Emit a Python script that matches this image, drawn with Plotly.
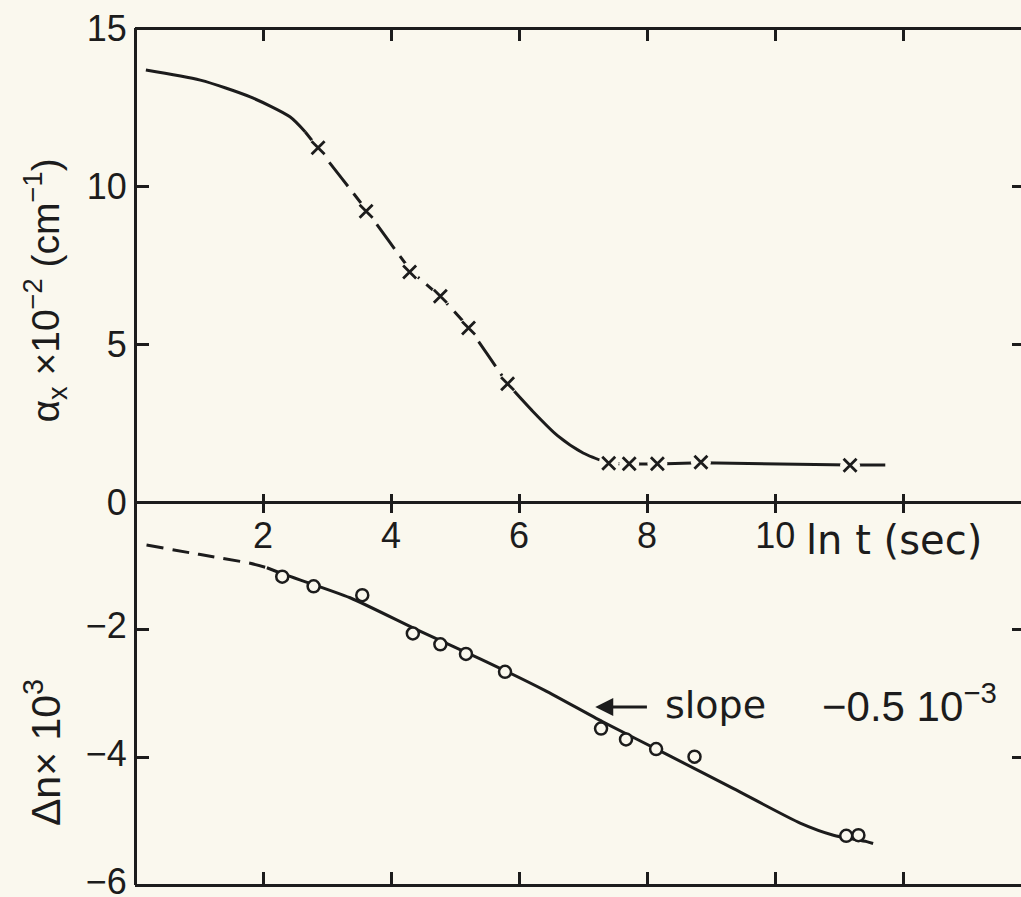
import plotly.graph_objects as go

# ---------------- data ----------------
# top panel: alpha_x x 10^-2 (cm^-1) vs ln t
alpha_a_x = [0.17, 1.02, 1.80, 2.42, 2.66]
alpha_a_y = [13.67, 13.35, 12.82, 12.19, 11.71]
alpha_b_x = [2.66, 2.86, 3.61, 4.32, 4.77, 5.21, 5.82]
alpha_b_y = [11.71, 11.20, 9.25, 7.30, 6.50, 5.52, 3.74]
alpha_c_x = [5.82, 6.20, 6.60, 7.00, 7.40]
alpha_c_y = [3.74, 2.90, 2.10, 1.55, 1.22]
alpha_d_x = [7.40, 7.72, 8.16, 8.84, 11.17, 11.72]
alpha_d_y = [1.22, 1.20, 1.20, 1.24, 1.17, 1.17]

alpha_pts_x = [2.86, 3.61, 4.29, 4.77, 5.21, 5.82, 7.40, 7.72, 8.16, 8.84, 11.17]
alpha_pts_y = [11.21, 9.20, 7.28, 6.51, 5.51, 3.74, 1.23, 1.21, 1.21, 1.26, 1.16]

# bottom panel: delta n x 10^3 vs ln t
dn_dash_x = [0.18, 1.00, 1.80, 2.06]
dn_dash_y = [-0.674, -0.82, -0.96, -1.03]
dn_line_x = [2.06, 2.32, 3.36, 4.40, 5.40, 6.40, 7.30, 8.30, 9.35, 10.39, 10.91, 11.43, 11.53]
dn_line_y = [-1.03, -1.13, -1.50, -2.00, -2.46, -2.95, -3.44, -3.95, -4.49, -5.03, -5.22, -5.32, -5.35]

dn_pts_x = [2.30, 2.79, 3.55, 4.34, 4.77, 5.17, 5.78, 7.28, 7.67, 8.14, 8.74, 11.11, 11.30]
dn_pts_y = [-1.17, -1.32, -1.46, -2.06, -2.23, -2.38, -2.66, -3.55, -3.72, -3.87, -3.99, -5.23, -5.22]

x_ticks = [2, 4, 6, 8, 10, 12]
x_tick_text = ["2", "4", "6", "8", "10", ""]
top_ticks = [0, 5, 10, 15]
top_tick_text = ["0", "5", "10", "15"]
bot_ticks = [-2, -4, -6]
bot_tick_text = ["\u22122", "\u22124", "\u22126"]

# ---------------- style ----------------
BG = "#faf8ee"
INK = "#1c1c1c"
FONT = "Liberation Sans"
WFONT = "DejaVu Sans"
LW = 3
X_RANGE = [0, 13.84]
SPLIT = 0.4469

fig = go.Figure()

def line(x, y, ya, dash="solid", shape="spline", smooth=0.7):
    fig.add_trace(go.Scatter(x=x, y=y, xaxis="x", yaxis=ya, mode="lines",
                             line=dict(color=INK, width=LW, dash=dash, shape=shape, smoothing=smooth),
                             hoverinfo="skip", showlegend=False))

line(alpha_a_x, alpha_a_y, "y")
line(alpha_b_x, alpha_b_y, "y", dash="30px,9px", smooth=0.4)
line(alpha_c_x, alpha_c_y, "y")
line(alpha_d_x, alpha_d_y, "y", shape="linear")

# masks to break the line around the crosses
fig.add_trace(go.Scatter(x=alpha_pts_x, y=alpha_pts_y, xaxis="x", yaxis="y", mode="markers",
                         marker=dict(symbol="circle", size=20, color=BG, line=dict(width=0)),
                         hoverinfo="skip", showlegend=False))
fig.add_trace(go.Scatter(x=alpha_pts_x, y=alpha_pts_y, xaxis="x", yaxis="y", mode="markers",
                         marker=dict(symbol="x-thin", size=13, color=INK, line=dict(width=2.8, color=INK)),
                         showlegend=False))

line(dn_dash_x, dn_dash_y, "y2", dash="17px,9px")
line(dn_line_x, dn_line_y, "y2", smooth=0.6)
fig.add_trace(go.Scatter(x=dn_pts_x, y=dn_pts_y, xaxis="x", yaxis="y2", mode="markers",
                         marker=dict(symbol="circle", size=12, color=BG, line=dict(width=2.5, color=INK)),
                         showlegend=False))

# empty traces so that the extra (frame / mirror) axes get drawn
for xa, ya in [("x2", "y"), ("x3", "y"), ("x4", "y2"), ("x", "y3"), ("x", "y4")]:
    fig.add_trace(go.Scatter(x=[None], y=[None], xaxis=xa, yaxis=ya, mode="markers",
                             hoverinfo="skip", showlegend=False))

tickfont = dict(family=FONT, size=36, color=INK)
common_x = dict(range=X_RANGE, tickvals=x_ticks, tickmode="array", showgrid=False, zeroline=False,
                tickcolor=INK, tickwidth=LW, linecolor=INK, linewidth=LW, fixedrange=True,
                automargin=False)
common_y = dict(showgrid=False, zeroline=False, tickcolor=INK, tickwidth=LW, fixedrange=True,
                automargin=False, tickmode="array", ticklabeloverflow="allow")

fig.update_layout(
    width=1021, height=897, autosize=False,
    margin=dict(l=135, r=0, t=28, b=12),
    paper_bgcolor=BG, plot_bgcolor=BG,
    font=dict(family=FONT, color=INK),
    showlegend=False,
    xaxis=dict(common_x, anchor="free", position=SPLIT, side="bottom", domain=[0, 1],
               ticks="outside", ticklen=9, showline=True, ticktext=x_tick_text,
               tickfont=tickfont, ticklabelstandoff=-8, ticklabeloverflow="allow"),
    xaxis2=dict(common_x, overlaying="x", anchor="free", position=SPLIT, side="top",
                ticks="outside", ticklen=8, showline=False, showticklabels=False),
    xaxis3=dict(common_x, overlaying="x", anchor="free", position=1, side="top",
                ticks="inside", ticklen=11, showline=True, showticklabels=False),
    xaxis4=dict(common_x, overlaying="x", anchor="free", position=0, side="bottom",
                ticks="inside", ticklen=12, showline=True, showticklabels=False),
    yaxis=dict(common_y, domain=[SPLIT, 1], range=[0, 15], anchor="free", position=0, side="left",
               tickvals=top_ticks, ticktext=top_tick_text, ticks="inside", ticklen=12,
               showline=True, linecolor=INK, linewidth=LW, tickfont=tickfont),
    yaxis2=dict(common_y, domain=[0, SPLIT], range=[-6, 0], anchor="free", position=0, side="left",
                tickvals=bot_ticks, ticktext=bot_tick_text, ticks="inside", ticklen=12,
                showline=True, linecolor=INK, linewidth=LW, tickfont=tickfont,
                ticklabelshift=-4),
    yaxis3=dict(common_y, overlaying="y", range=[0, 15], anchor="free", position=1, side="right",
                tickvals=[5, 10], ticks="inside", ticklen=9, showline=False,
                showticklabels=False),
    yaxis4=dict(common_y, overlaying="y2", range=[-6, 0], anchor="free", position=1, side="right",
                tickvals=[-2, -4], ticks="inside", ticklen=9, showline=False,
                showticklabels=False),
)

# axis titles
fig.add_annotation(xref="paper", yref="paper", x=-0.101, y=0.693, textangle=-90,
                   text="\u03b1<sub>x</sub> \u00d710<sup>\u22122</sup> (cm<sup>\u22121</sup>)",
                   showarrow=False, font=dict(family=FONT, size=39, color=INK),
                   xanchor="center", yanchor="middle")
fig.add_annotation(xref="paper", yref="paper", x=-0.104, y=0.155, textangle=-90,
                   text="\u0394n\u00d7\u00a010<sup>3</sup>",
                   showarrow=False, font=dict(family=FONT, size=41, color=INK),
                   xanchor="center", yanchor="middle")
fig.add_annotation(xref="x", yref="y2", x=10.45, y=-0.60, text="ln t (sec)",
                   showarrow=False, font=dict(family=WFONT, size=40, color=INK),
                   xanchor="left", yanchor="middle")

# slope annotation
fig.add_annotation(xref="x", yref="y2", x=7.19, y=-3.21, axref="x", ayref="y2",
                   ax=8.02, ay=-3.21, text="", showarrow=True, arrowhead=2,
                   arrowsize=1.2, arrowwidth=3, arrowcolor=INK)
fig.add_annotation(xref="x", yref="y2", x=8.25, y=-3.18, text="slope",
                   showarrow=False, font=dict(family=WFONT, size=38, color=INK),
                   xanchor="left", yanchor="middle")
fig.add_annotation(xref="x", yref="y2", x=10.70, y=-3.15,
                   text="\u22120.5\u00a010<sup>\u22123</sup>",
                   showarrow=False, font=dict(family=FONT, size=42, color=INK),
                   xanchor="left", yanchor="middle")

fig.write_html(
    "out.html",
    config={"displayModeBar": False},
    post_script="document.body.style.margin='0';document.body.style.overflow='hidden';"
                "document.body.style.background='" + BG + "';",
)
